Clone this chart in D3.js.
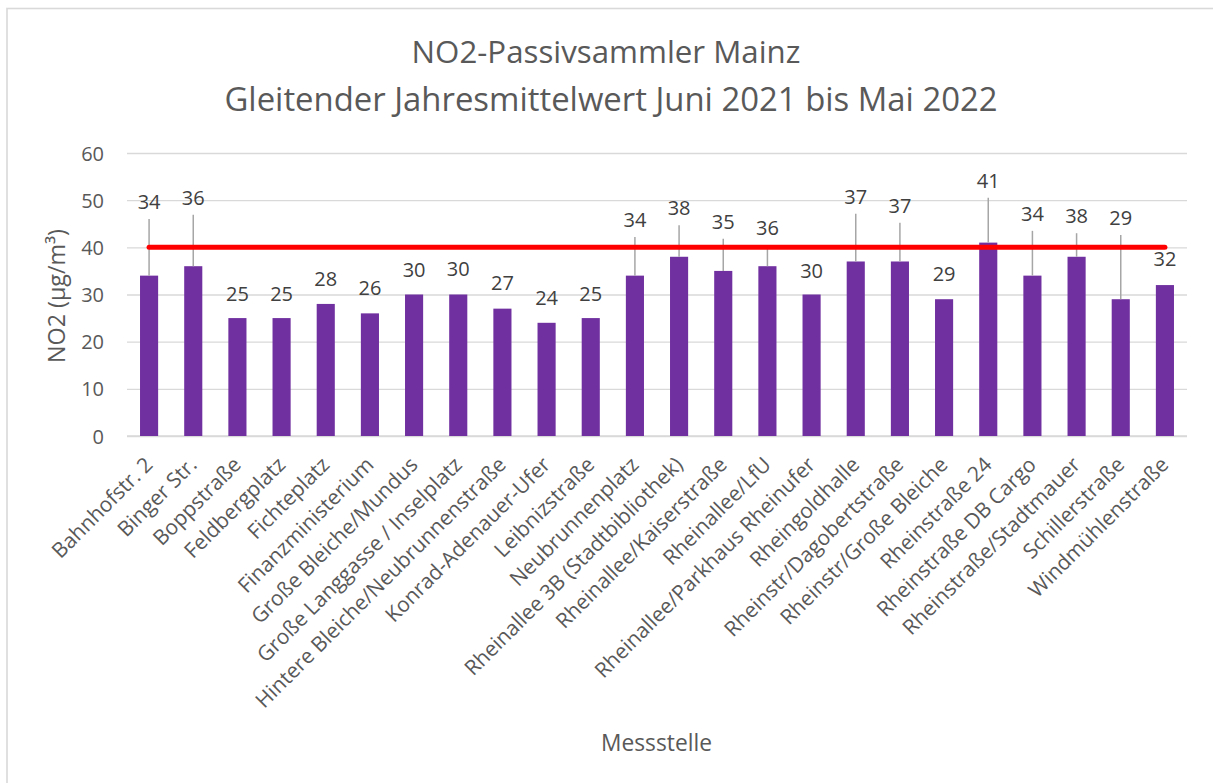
<!DOCTYPE html>
<html><head><meta charset="utf-8">
<script src="https://cdn.jsdelivr.net/npm/d3@7"></script>
<style>
body{margin:0;background:#fff}
text{font-family:"Open Sans","Noto Sans",sans-serif;fill:#595959}
</style>
</head><body>
<svg id="c" width="1213" height="783"></svg>
<script>
const categories = ["Bahnhofstr. 2","Binger Str.","Boppstraße","Feldbergplatz","Fichteplatz","Finanzministerium","Große Bleiche/Mundus","Große Langgasse / Inselplatz","Hintere Bleiche/Neubrunnenstraße","Konrad-Adenauer-Ufer","Leibnizstraße","Neubrunnenplatz","Rheinallee 3B (Stadtbibliothek)","Rheinallee/Kaiserstraße","Rheinallee/LfU","Rheinallee/Parkhaus Rheinufer","Rheingoldhalle","Rheinstr/Dagobertstraße","Rheinstr/Große Bleiche","Rheinstraße 24","Rheinstraße DB Cargo","Rheinstraße/Stadtmauer","Schillerstraße","Windmühlenstraße"];
const values = [34,36,25,25,28,26,30,30,27,24,25,34,38,35,36,30,37,37,29,41,34,38,29,32];
// where each data label sits, in axis units (as placed in the original)
const labelAt = [49.6,50.5,30.1,30.1,33.3,31.4,35.2,35.4,32.4,29.3,30.1,45.8,48.3,45.4,44.1,35.0,50.7,48.8,34.3,54.1,47.1,46.6,46.2,37.5];
const limitValue = 40;
const yTicks = [0,10,20,30,40,50,60];
const titleLines = ["NO2-Passivsammler Mainz","Gleitender Jahresmittelwert Juni 2021 bis Mai 2022"];
const yTitle = "NO2 (µg/m³)";
const xTitle = "Messstelle";

const svg = d3.select("#c");
const L = 127, R = 1187, T = 153, B = 436;

function fit(sel, target){
  const w = sel.node().getComputedTextLength();
  const fs = parseFloat(sel.style("font-size"));
  sel.style("font-size", (fs*target/w).toFixed(2)+"px");
}

// chart border
svg.append("rect").attr("x",7).attr("y",8.5).attr("width",1300).attr("height",900)
  .attr("fill","none").attr("stroke","#d9d9d9").attr("stroke-width",1.6);

const x = d3.scaleBand().domain(categories).range([L,R]).paddingInner(0.59).paddingOuter(0.295);
const y = d3.scaleLinear().domain([0,60]).range([B,T]);

// grid + y axis
const yAxis = d3.axisLeft(y).tickValues(yTicks).tickSize(-(R-L)).tickPadding(23).tickFormat(d3.format("d"));
const gy = svg.append("g").attr("transform",`translate(${L},0)`).call(yAxis);
gy.select(".domain").remove();
gy.selectAll(".tick line").attr("stroke","#d9d9d9").attr("stroke-width",1.3);
gy.selectAll(".tick text").style("font-size","20px").attr("fill","#595959")
  .attr("dy","0.35em").style("font-family",'"Open Sans",sans-serif');

// x axis baseline
svg.append("line").attr("x1",L).attr("x2",R).attr("y1",B).attr("y2",B)
  .attr("stroke","#d9d9d9").attr("stroke-width",1.3);

// bars
svg.append("g").selectAll("rect").data(values).join("rect")
  .attr("x",(d,i)=>x(categories[i])).attr("width",x.bandwidth())
  .attr("y",d=>y(d)).attr("height",d=>B-y(d)).attr("fill","#7030a0");

// leader lines
const cx = i => x(categories[i]) + x.bandwidth()/2;
svg.append("g").selectAll("line").data(values.map((v,i)=>({v,i})).filter(o=>y(o.v)-(y(labelAt[o.i])+17)>12)).join("line")
  .attr("x1",o=>cx(o.i)).attr("x2",o=>cx(o.i))
  .attr("y1",o=>y(labelAt[o.i])+17).attr("y2",o=>y(o.v))
  .attr("stroke","#a6a6a6").attr("stroke-width",1.5);

// limit line
svg.append("line").attr("x1",cx(0)).attr("x2",cx(categories.length-1))
  .attr("y1",y(limitValue)).attr("y2",y(limitValue))
  .attr("stroke","#ff0000").attr("stroke-width",5).attr("stroke-linecap","round");

// data labels
svg.append("g").selectAll("text").data(values).join("text")
  .attr("x",(d,i)=>cx(i)).attr("y",(d,i)=>y(labelAt[i])).attr("dy","0.36em")
  .attr("text-anchor","middle").style("font-size","20px").style("fill","#404040").text(d=>d);

// x labels
const xl = svg.append("g").selectAll("text").data(categories).join("text")
  .attr("text-anchor","end")
  .attr("transform",(d,i)=>`translate(${cx(i)+5},${B+30}) rotate(-45)`)
  .style("font-size","16px").text(d=>d);
// calibrate size using the longest label
{
  const n = xl.filter(d=>d==="Hintere Bleiche/Neubrunnenstraße");
  const w = n.node().getComputedTextLength();
  xl.style("font-size",(16*344/w).toFixed(2)+"px");
}

// titles
const t1 = svg.append("text").attr("x",606).attr("y",63).attr("text-anchor","middle").style("font-size","28px").text(titleLines[0]);
fit(t1,389);
const t2 = svg.append("text").attr("x",611).attr("y",111).attr("text-anchor","middle").style("font-size","28px").text(titleLines[1]);
fit(t2,773);

// axis titles
const yt = svg.append("text").attr("transform","translate(65,296) rotate(-90)").attr("text-anchor","middle").style("font-size","20px").text(yTitle);
fit(yt,134);
const xt = svg.append("text").attr("x",656.5).attr("y",751).attr("text-anchor","middle").style("font-size","20px").text(xTitle);
fit(xt,111);
</script>
</body></html>
